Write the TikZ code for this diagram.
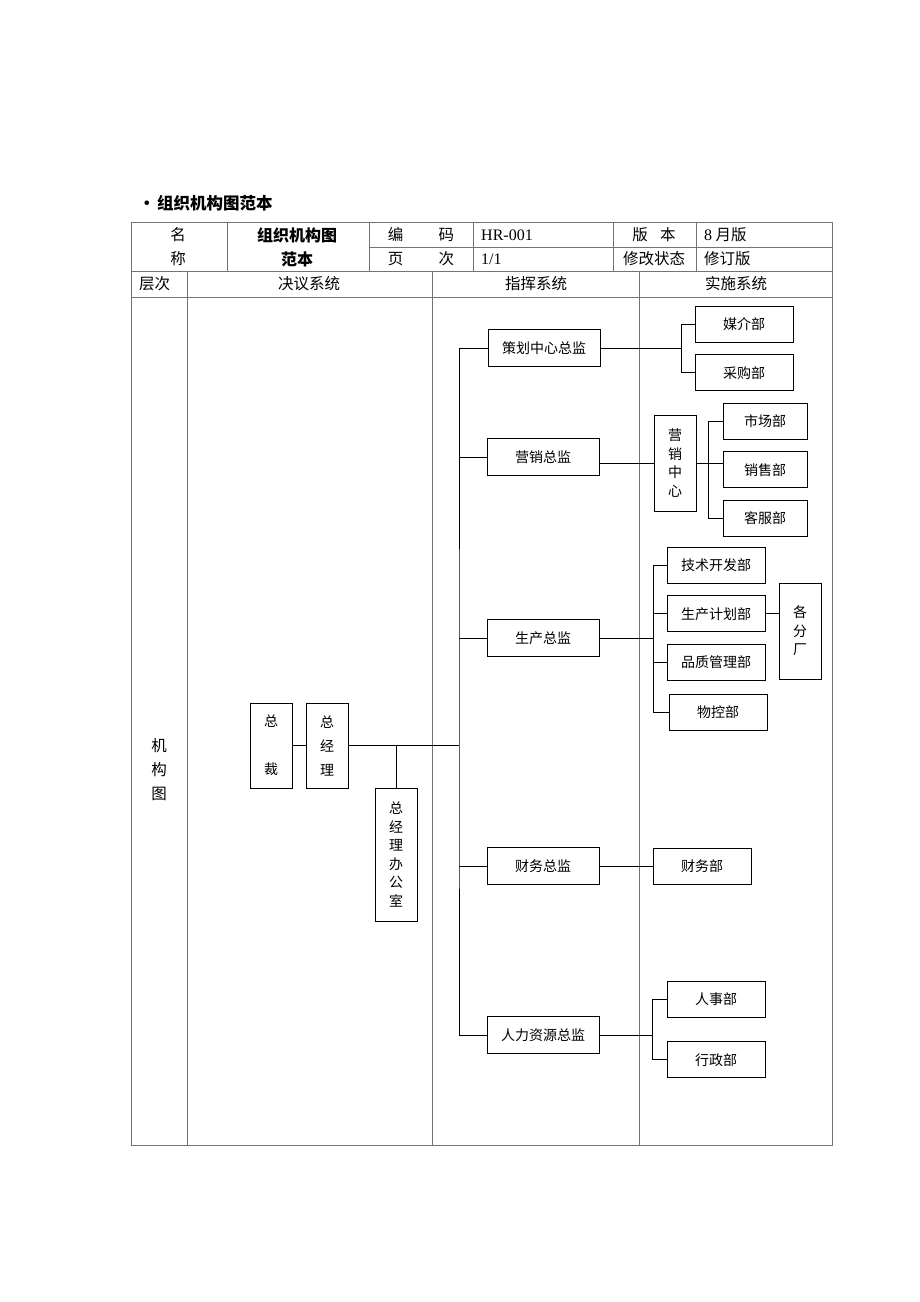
\documentclass[tikz,border=0pt]{standalone}
\usepackage{fontspec}
\setmainfont{Liberation Serif}
\newfontfamily\cjk{Noto Sans CJK SC}
\usetikzlibrary{positioning}

\begin{document}
\begin{tikzpicture}[x=1pt, y=-1pt,
    grid/.style={draw=black!55, line width=1pt},
    cell/.style={inner sep=0pt, align=center, font=\cjk\fontsize{15.5}{24}\selectfont},
    box/.style={draw, line width=0.8pt, inner sep=0pt, align=center, font=\cjk\fontsize{14}{18.5}\selectfont},
    director/.style={box, minimum width=112pt, minimum height=37pt},
    dept/.style={box, minimum width=98pt, minimum height=36pt},
    vbox/.style={box, minimum width=42pt},
    link/.style={draw, line width=0.8pt}
  ]
    \useasboundingbox (0,0) rectangle (920,1302);
    \node[anchor=west, font=\cjk\bfseries\fontsize{16.5}{17}\selectfont] (heading) at (135,203) {•\hspace{2pt}组织机构图范本};
    \draw[grid] (131,222) rectangle (832,1145);
    \draw[grid] (131,271) -- (832,271);
    \draw[grid] (131,297) -- (832,297);
    \draw[grid] (369,247) -- (832,247);
    \foreach \x in {227,369,473,613,696} \draw[grid] (\x,222) -- (\x,271);
    \foreach \x in {187,432,639} \draw[grid] (\x,271) -- (\x,1145);
    \node[cell] (namekey) at (178,247) {名\\称};
    \node[cell, font=\cjk\bfseries\fontsize{16}{24}\selectfont] (name) at (297,247) {组织机构图\\范本};
    \node[cell] (codekey) at (421,235) {编\hspace{35.5pt}码};
    \node[cell] (pagekey) at (421,259) {页\hspace{35.5pt}次};
    \node[cell, anchor=west, font=\fontsize{16}{16}\selectfont] (code) at (481,235) {HR-001};
    \node[cell, anchor=west, font=\fontsize{16}{16}\selectfont] (page) at (481,259) {1/1};
    \node[cell] (versionkey) at (654,235) {版\hspace{12.5pt}本};
    \node[cell] (statekey) at (654,259) {修改状态};
    \node[cell, anchor=west] (version) at (704,235) {{\rmfamily\fontsize{16}{16}\selectfont 8} 月版};
    \node[cell, anchor=west] (state) at (704,259) {修订版};
    \node[cell, anchor=west] (level) at (139,284) {层次};
    \node[cell] (decision) at (309,284) {决议系统};
    \node[cell] (command) at (536,284) {指挥系统};
    \node[cell] (execution) at (736,284) {实施系统};
    \node[cell] (chart) at (159,770) {机\\构\\图};

    \node[vbox, minimum height=85pt, font=\cjk\fontsize{14}{24}\selectfont] (president) at (271,745.5) {总\\[24pt]裁};
    \node[vbox, minimum height=85pt, font=\cjk\fontsize{14}{24}\selectfont] (gm) at (327,745.5) {总\\经\\理};
    \node[vbox, minimum height=133pt] (office) at (396,854.5) {总\\经\\理\\办\\公\\室};
    \node[director] (planning) at (544,348) {策划中心总监};
    \node[director] (marketing) at (543,457) {营销总监};
    \node[director] (production) at (543,638) {生产总监};
    \node[director] (finance) at (543,866) {财务总监};
    \node[director] (hr) at (543,1035) {人力资源总监};

    \node[dept] (media) at (744,324) {媒介部};
    \node[dept, below=12pt of media] (purchase) {采购部};
    \node[vbox, minimum height=96pt] (salescenter) at (675,463) {营\\销\\中\\心};
    \node[dept, minimum width=84pt] (market) at (765,421) {市场部};
    \node[dept, minimum width=84pt, below=12pt of market] (sales) {销售部};
    \node[dept, minimum width=84pt, below=12pt of sales] (service) {客服部};
    \node[dept] (tech) at (716,565) {技术开发部};
    \node[dept, below=12pt of tech] (schedule) {生产计划部};
    \node[dept, below=12pt of schedule] (quality) {品质管理部};
    \node[dept, below=13pt of quality, xshift=2pt] (material) {物控部};
    \node[vbox, minimum height=96pt] (branch) at (800,631) {各\\分\\厂};
    \node[dept] (accounts) at (702,866) {财务部};
    \node[dept] (personnel) at (716,999) {人事部};
    \node[dept, below=24pt of personnel] (admin) {行政部};

    \coordinate (trunk) at (459,745.5);
    \draw[link] (president) -- (gm);
    \draw[link] (gm.east) -- (trunk);
    \draw[link] (office.north) -- (office.north |- trunk);
    \draw[link] (planning.west) -| (trunk) |- (hr.west);
    \foreach \n in {marketing,production,finance}
      \draw[link] (\n.west) -- (\n.west -| trunk);

    \path (media.west) ++(-13,0) coordinate (planfork);
    \draw[link] (media.west) -| (planfork) |- (purchase.west);
    \draw[link] (planning.east) -- (planning.east -| planfork);

    \path (market.west) ++(-14,0) coordinate (salesfork);
    \draw[link] (marketing.east |- salescenter.west) -- (salescenter.west);
    \draw[link] (market.west) -| (salesfork) |- (service.west);
    \draw[link] (salescenter.east) -- (salescenter.east -| sales.west);

    \path (tech.west) ++(-13,0) coordinate (prodfork);
    \draw[link] (tech.west) -| (prodfork) |- (material.west);
    \draw[link] (production.east) -- (production.east -| prodfork);
    \draw[link] (schedule.west) -- (schedule.west -| prodfork);
    \draw[link] (quality.west) -- (quality.west -| prodfork);
    \draw[link] (schedule.east) -- (schedule.east -| branch.west);

    \draw[link] (finance.east) -- (accounts.west);

    \path (personnel.west) ++(-14,0) coordinate (hrfork);
    \draw[link] (personnel.west) -| (hrfork) |- (admin.west);
    \draw[link] (hr.east) -- (hr.east -| hrfork);
\end{tikzpicture}
\end{document}
